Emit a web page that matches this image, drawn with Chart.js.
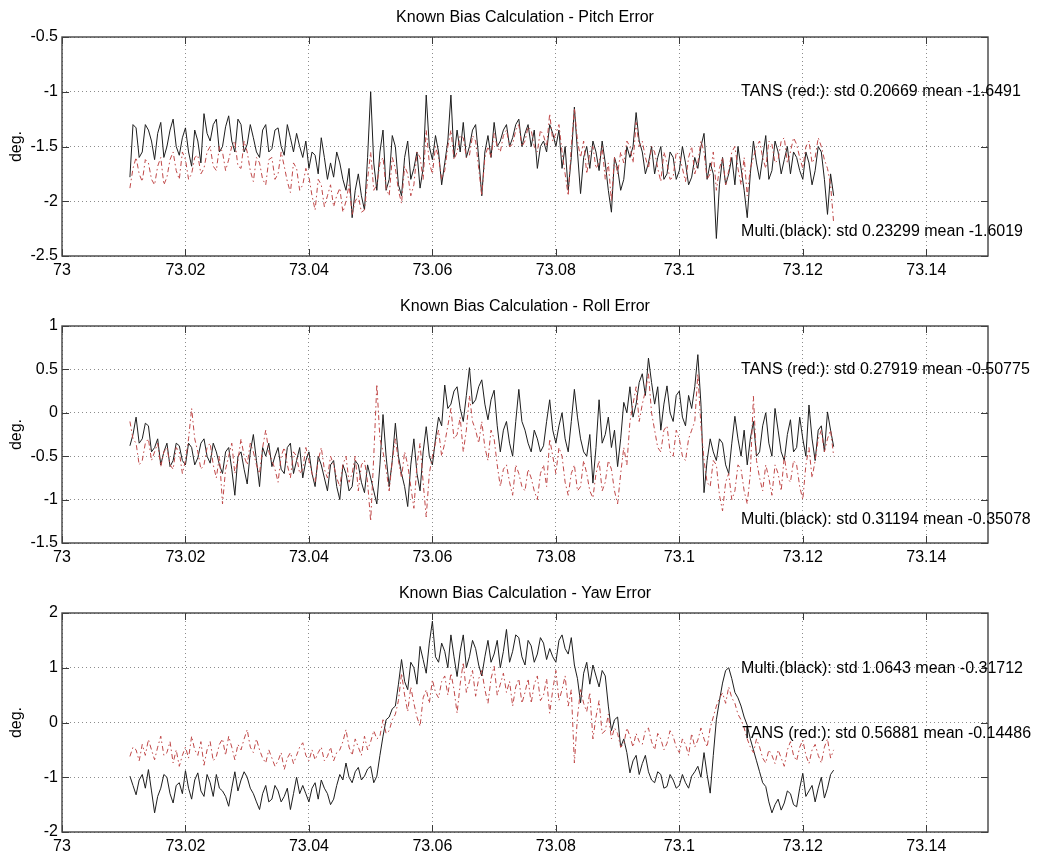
<!DOCTYPE html>
<html><head><meta charset="utf-8">
<script src="https://cdn.jsdelivr.net/npm/chart.js@4.4.1/dist/chart.umd.min.js"></script>
<style>
html,body{margin:0;padding:0;background:#fff;}
body{width:1041px;height:856px;position:relative;overflow:hidden;}
canvas{position:absolute;left:0;}
</style></head><body>
<canvas id="c1" style="top:0px;width:1041px;height:290px" width="1041" height="290"></canvas>
<canvas id="c2" style="top:290px;width:1041px;height:287px" width="1041" height="287"></canvas>
<canvas id="c3" style="top:577px;width:1041px;height:279px" width="1041" height="279"></canvas>
<script>
// ---- data ----
// samples at 73.011, 73.012, ... (grid values) and the read-off values half-way between them (mid values)
const sampleStart = 73.011;
const sampleStep = 0.0005;
const xTicks = [73, 73.02, 73.04, 73.06, 73.08, 73.1, 73.12, 73.14];
const pitchTicks = [-2.5, -2, -1.5, -1, -0.5];
const rollTicks = [-1.5, -1, -0.5, 0, 0.5, 1];
const yawTicks = [-2, -1, 0, 1, 2];

const titles = ["Known Bias Calculation - Pitch Error", "Known Bias Calculation - Roll Error", "Known Bias Calculation - Yaw Error"];
const pitchNotes = [["TANS (red:): std 0.20669 mean -1.6491", 73.11, -1.0], ["Multi.(black): std 0.23299 mean -1.6019", 73.11, -2.28]];
const rollNotes = [["TANS (red:): std 0.27919 mean -0.50775", 73.11, 0.5], ["Multi.(black): std 0.31194 mean -0.35078", 73.11, -1.235]];
const yawNotes = [["Multi.(black): std 1.0643 mean -0.31712", 73.11, 0.98], ["TANS (red:): std 0.56881 mean -0.14486", 73.1102, -0.21]];

const pitchBlack = [-1.78,-1.33,-1.55,-1.35,-1.62,-1.28,-1.5,-1.25,-1.58,-1.33,
 -1.68,-1.45,-1.2,-1.45,-1.25,-1.5,-1.22,-1.55,-1.3,-1.48,
 -1.42,-1.6,-1.3,-1.52,-1.33,-1.58,-1.42,-1.38,-1.6,-1.7,
 -1.58,-1.42,-1.8,-1.78,-1.65,-1.9,-2.15,-1.75,-2.08,-1.0,
 -1.9,-1.35,-1.8,-1.5,-1.95,-1.45,-1.7,-1.88,-1.03,-1.62,
 -1.55,-1.65,-1.03,-1.35,-1.28,-1.5,-1.3,-1.95,-1.4,-1.28,
 -1.45,-1.3,-1.42,-1.25,-1.38,-1.5,-1.7,-1.45,-1.3,-1.5,
 -1.7,-1.9,-1.14,-1.93,-1.5,-1.45,-1.72,-1.65,-2.1,-1.7,
 -1.8,-1.6,-1.19,-1.55,-1.65,-1.75,-1.5,-1.75,-1.6,-1.72,
 -1.65,-1.78,-1.7,-1.38,-1.65,-2.34,-1.6,-1.75,-1.85,-1.7,
 -2.15,-1.45,-1.8,-1.4,-1.72,-1.55,-1.62,-1.75,-1.6,-1.8,
 -1.65,-1.72,-1.55,-2.12,-1.95];
const pitchBlackMid = [-1.3,-1.6,-1.3,-1.45,-1.38,-1.6,-1.35,-1.5,-1.42,-1.55,
 -1.35,-1.65,-1.38,-1.3,-1.55,-1.32,-1.45,-1.25,-1.55,-1.3,
 -1.55,-1.35,-1.55,-1.35,-1.5,-1.3,-1.55,-1.5,-1.45,-1.55,
 -1.75,-1.6,-1.65,-1.55,-1.8,-1.7,-1.9,-1.95,-1.6,-1.65,
 -1.55,-1.9,-1.4,-1.85,-1.6,-1.8,-1.55,-1.7,-1.5,-1.4,
 -1.85,-1.45,-1.6,-1.55,-1.6,-1.35,-1.6,-1.55,-1.6,-1.5,
 -1.35,-1.5,-1.3,-1.5,-1.3,-1.35,-1.5,-1.55,-1.38,-1.35,
 -1.5,-1.6,-1.55,-1.6,-1.7,-1.55,-1.45,-1.9,-1.6,-1.9,
 -1.5,-1.5,-1.45,-1.75,-1.5,-1.6,-1.8,-1.55,-1.8,-1.5,
 -1.85,-1.6,-1.5,-1.8,-1.75,-1.85,-1.85,-1.6,-1.5,-1.9,
 -1.75,-1.65,-1.6,-1.8,-1.45,-1.75,-1.5,-1.55,-1.72,-1.55,
 -1.85,-1.5,-1.8,-1.75];
const pitchRed = [-1.88,-1.6,-1.82,-1.65,-1.85,-1.6,-1.78,-1.55,-1.8,-1.62,
 -1.75,-1.58,-1.7,-1.5,-1.72,-1.55,-1.62,-1.45,-1.7,-1.55,
 -1.82,-1.65,-1.85,-1.6,-1.75,-1.68,-1.92,-1.7,-1.85,-1.78,
 -2.08,-1.85,-1.95,-2.05,-1.88,-2.0,-2.12,-1.95,-2.08,-1.55,
 -1.85,-1.6,-1.95,-1.7,-2.02,-1.75,-1.85,-1.6,-1.35,-1.75,
 -1.6,-1.72,-1.35,-1.55,-1.42,-1.58,-1.45,-1.95,-1.5,-1.38,
 -1.55,-1.35,-1.48,-1.3,-1.45,-1.35,-1.55,-1.4,-1.2,-1.38,
 -1.55,-1.95,-1.15,-1.6,-1.75,-1.5,-1.65,-1.8,-2.0,-1.75,
 -1.65,-1.5,-1.28,-1.45,-1.7,-1.55,-1.82,-1.65,-1.78,-1.58,
 -1.82,-1.5,-1.65,-1.55,-1.75,-1.9,-1.6,-1.72,-1.5,-1.85,
 -1.95,-1.6,-1.45,-1.7,-1.48,-1.62,-1.42,-1.55,-1.48,-1.7,
 -1.45,-1.6,-1.5,-1.7,-2.2];
const pitchRedMid = [-1.7,-1.75,-1.62,-1.8,-1.68,-1.85,-1.62,-1.72,-1.55,-1.8,
 -1.6,-1.75,-1.55,-1.68,-1.5,-1.72,-1.5,-1.68,-1.45,-1.72,
 -1.6,-1.8,-1.62,-1.8,-1.55,-1.82,-1.65,-1.9,-1.7,-1.95,
 -1.8,-2.05,-1.85,-1.95,-2.1,-1.85,-2.0,-2.1,-1.8,-1.9,
 -1.65,-1.88,-1.6,-1.9,-1.68,-1.95,-1.55,-1.8,-1.65,-1.5,
 -1.8,-1.5,-1.62,-1.4,-1.6,-1.4,-1.7,-1.6,-1.6,-1.5,
 -1.4,-1.5,-1.35,-1.5,-1.32,-1.5,-1.35,-1.5,-1.45,-1.3,
 -1.75,-1.5,-1.45,-1.45,-1.55,-1.7,-1.5,-1.65,-1.6,-1.55,
 -1.45,-1.65,-1.5,-1.6,-1.5,-1.7,-1.55,-1.8,-1.55,-1.7,
 -1.6,-1.75,-1.45,-1.8,-1.55,-1.7,-1.85,-1.55,-1.7,-1.6,
 -1.7,-1.5,-1.6,-1.45,-1.65,-1.45,-1.65,-1.42,-1.6,-1.5,
 -1.65,-1.42,-1.62,-1.85];
const rollBlack = [-0.38,-0.05,-0.3,-0.15,-0.4,-0.6,-0.35,-0.55,-0.38,-0.6,
 -0.4,-0.52,-0.3,-0.58,-0.45,-0.7,-0.4,-0.95,-0.45,-0.82,
 -0.25,-0.85,-0.5,-0.62,-0.4,-0.7,-0.35,-0.55,-0.75,-0.45,
 -0.85,-0.6,-0.9,-0.55,-1.0,-0.7,-0.85,-0.6,-0.92,-0.75,
 -1.05,-0.02,-0.85,-0.12,-0.7,-1.08,-0.3,-0.9,-0.16,-0.6,
 -0.05,0.32,0.1,0.3,-0.1,0.52,0.15,0.38,-0.08,0.26,
 -0.45,-0.1,-0.5,0.27,-0.2,-0.45,-0.3,-0.38,0.15,-0.35,
 0.0,-0.45,0.27,-0.3,-0.5,-0.81,0.15,-0.25,-0.4,-0.62,
 0.12,0.3,0.1,0.45,0.63,0.1,-0.2,0.31,-0.1,0.25,
 -0.15,0.05,0.67,-0.92,-0.3,-0.55,-0.35,-0.7,-0.04,-0.5,
 -0.6,-0.1,-0.45,0.0,-0.5,-0.2,-0.55,-0.08,-0.4,-0.3,
 0.09,-0.55,-0.15,0.01,-0.39];
const rollBlackMid = [-0.25,-0.35,-0.12,-0.45,-0.3,-0.45,-0.62,-0.35,-0.55,-0.35,
 -0.6,-0.35,-0.5,-0.35,-0.6,-0.45,-0.65,-0.5,-0.65,-0.45,
 -0.55,-0.4,-0.35,-0.5,-0.65,-0.4,-0.7,-0.4,-0.55,-0.7,
 -0.5,-0.75,-0.6,-0.85,-0.6,-0.9,-0.55,-0.8,-0.6,-0.9,
 -0.6,-0.5,-0.55,-0.5,-0.85,-0.6,-0.7,-0.45,-0.5,-0.3,
 -0.15,0.05,0.25,0.05,0.2,0.1,0.3,0.1,0.15,-0.15,
 -0.2,-0.35,-0.1,-0.1,-0.35,-0.2,-0.45,-0.1,-0.2,-0.15,
 -0.3,-0.1,-0.05,-0.45,-0.25,-0.4,-0.35,-0.05,-0.2,-0.3,
 0.0,-0.05,0.35,0.2,0.35,0.3,0.1,0.0,0.2,-0.05,
 0.2,0.3,0.1,-0.55,-0.45,-0.3,-0.6,-0.35,-0.3,-0.2,
 -0.3,-0.5,-0.15,-0.35,0.05,-0.45,-0.25,-0.45,-0.05,-0.5,
 -0.3,-0.2,-0.45,-0.2];
const rollRed = [-0.1,-0.35,-0.55,-0.3,-0.45,-0.62,-0.4,-0.65,-0.45,-0.55,
 0.05,-0.45,-0.6,-0.35,-0.75,-1.05,-0.5,-0.7,-0.3,-0.6,
 -0.45,-0.7,-0.2,-0.55,-0.8,-0.4,-0.75,-0.5,-0.65,-0.55,
 -0.8,-0.4,-0.75,-0.6,-0.85,-0.5,-0.7,-0.9,-0.55,-1.25,
 0.33,-0.45,-0.9,-0.3,-0.75,-0.6,-1.1,-0.35,-1.2,-0.5,
 -0.2,-0.35,0.05,-0.25,-0.45,0.2,-0.2,-0.1,-0.55,-0.3,
 -0.85,-0.6,-0.95,-0.7,-0.9,-0.75,-1.0,-0.6,-0.3,-0.7,
 -0.5,-0.95,-0.6,-0.85,-0.7,-0.98,-0.55,-0.8,-0.65,-1.05,
 -0.4,-0.1,0.3,0.1,0.45,-0.2,-0.45,-0.15,-0.5,-0.3,
 -0.55,-0.2,0.45,-0.55,-0.85,-0.6,-1.13,-0.7,-0.9,-0.65,
 -1.05,0.19,-0.75,-0.6,-0.95,-0.7,-0.5,-0.8,-0.6,-1.0,
 -0.4,-0.55,-0.2,-0.3,-0.5];
const rollRedMid = [-0.3,-0.6,-0.35,-0.55,-0.35,-0.45,-0.6,-0.4,-0.7,-0.3,
 -0.3,-0.65,-0.4,-0.6,-0.5,-0.65,-0.35,-0.55,-0.5,-0.35,
 -0.6,-0.4,-0.45,-0.65,-0.5,-0.6,-0.45,-0.7,-0.4,-0.7,
 -0.55,-0.65,-0.5,-0.75,-0.6,-0.8,-0.5,-0.6,-0.8,-0.5,
 -0.3,-0.65,-0.55,-0.55,-0.45,-0.85,-0.6,-0.8,-0.7,-0.35,
 -0.5,-0.15,-0.3,-0.05,-0.2,-0.1,-0.35,-0.4,-0.2,-0.6,
 -0.65,-0.8,-0.6,-0.85,-0.65,-0.9,-0.7,-0.85,-0.5,-0.4,
 -0.8,-0.7,-0.9,-0.55,-0.9,-0.7,-0.9,-0.55,-0.9,-0.7,
 -0.6,0.1,-0.1,0.25,0.0,-0.4,-0.2,-0.45,-0.2,-0.5,
 -0.3,-0.1,-0.15,-0.8,-0.55,-0.95,-0.8,-1.0,-0.6,-0.9,
 -0.7,-0.55,-0.9,-0.75,-0.6,-0.9,-0.75,-0.55,-0.85,-0.6,
 -0.75,-0.3,-0.45,-0.2];
const yawBlack = [-0.98,-1.32,-0.95,-0.86,-1.65,-1.2,-1.0,-1.47,-1.1,-0.88,
 -1.4,-0.92,-1.35,-1.1,-0.95,-1.25,-1.53,-0.9,-1.05,-1.0,
 -1.3,-1.59,-1.15,-1.4,-1.25,-1.35,-1.59,-1.0,-1.15,-1.45,
 -1.1,-1.05,-1.3,-1.4,-0.95,-0.74,-1.1,-0.82,-0.98,-0.8,
 -0.98,-0.25,0.1,0.3,1.15,0.6,1.0,1.39,0.9,1.85,
 1.1,1.3,1.6,0.84,1.6,1.2,1.35,0.85,1.5,1.25,
 1.0,1.7,1.3,1.55,1.05,1.4,1.25,1.45,1.35,1.1,
 1.6,1.25,1.05,0.36,1.1,1.05,0.65,0.85,-0.15,0.1,
 -0.3,-0.92,-0.6,-0.75,-0.9,-1.1,-0.95,-1.17,-1.05,-1.15,
 -1.1,-0.98,-0.8,-0.55,-1.29,0.05,0.72,1.0,0.55,0.3,
 -0.05,-0.5,-0.9,-1.17,-1.65,-1.4,-1.47,-1.3,-1.54,-0.93,
 -1.25,-1.45,-1.0,-1.2,-0.87];
const yawBlackMid = [-1.15,-1.05,-1.2,-1.25,-1.35,-0.95,-1.3,-1.15,-1.3,-1.2,
 -1.05,-1.25,-0.95,-1.35,-1.2,-1.35,-1.2,-1.25,-0.9,-1.2,
 -1.45,-1.3,-1.45,-1.15,-1.45,-1.2,-1.3,-1.3,-1.3,-1.2,
 -1.4,-1.2,-1.5,-1.15,-1.05,-1.0,-0.9,-1.05,-0.85,-1.1,
 -0.6,0.05,0.25,0.7,0.75,1.1,0.7,1.15,1.45,1.2,
 1.45,1.0,1.2,1.3,1.0,1.5,1.05,1.2,1.1,1.5,
 1.3,1.1,1.6,1.2,1.5,1.1,1.55,1.15,1.2,1.5,
 1.35,1.55,0.8,0.9,0.7,0.85,0.95,0.3,0.05,-0.45,
 -0.55,-0.7,-0.95,-0.6,-1.05,-0.9,-1.2,-0.95,-1.2,-0.95,
 -1.2,-0.9,-1.0,-0.95,-0.6,0.4,0.95,0.8,0.45,0.1,
 -0.3,-0.7,-1.1,-1.45,-1.5,-1.6,-1.25,-1.5,-1.2,-1.35,
 -1.15,-1.2,-1.38,-0.95];
const yawRed = [-0.62,-0.5,-0.4,-0.31,-0.68,-0.25,-0.55,-0.74,-0.8,-0.45,
 -0.25,-0.6,-0.78,-0.35,-0.62,-0.3,-0.25,-0.68,-0.5,-0.13,
 -0.55,-0.5,-0.74,-0.65,-0.7,-0.86,-0.55,-0.6,-0.37,-0.7,
 -0.68,-0.45,-0.62,-0.7,-0.5,-0.13,-0.6,-0.45,-0.25,-0.35,
 -0.3,0.05,-0.15,0.15,0.9,0.2,0.35,-0.07,0.6,0.78,
 0.45,0.85,0.9,0.17,1.1,0.75,0.48,0.95,0.35,1.03,
 0.7,0.55,0.3,0.8,0.55,0.35,0.85,0.5,0.17,0.95,
 0.6,0.3,-0.74,0.6,0.2,-0.3,0.4,-0.15,-0.3,-0.2,
 -0.4,-0.25,-0.2,-0.4,-0.1,-0.5,-0.3,-0.38,-0.25,-0.55,
 -0.4,-0.2,-0.32,-0.3,-0.1,0.3,0.54,0.65,0.35,0.05,
 -0.3,-0.55,-0.45,-0.74,-0.6,-0.5,-0.8,-0.35,-0.7,-0.32,
 -0.75,-0.4,-0.74,-0.3,-0.5];
const yawRedMid = [-0.45,-0.7,-0.6,-0.5,-0.45,-0.6,-0.35,-0.5,-0.6,-0.65,
 -0.5,-0.35,-0.5,-0.7,-0.4,-0.6,-0.45,-0.4,-0.3,-0.45,
 -0.3,-0.65,-0.5,-0.8,-0.55,-0.65,-0.75,-0.45,-0.6,-0.5,
 -0.55,-0.7,-0.45,-0.55,-0.35,-0.45,-0.3,-0.6,-0.5,-0.15,
 -0.25,-0.2,0.05,0.4,0.5,0.65,0.1,0.45,0.35,0.55,
 0.75,0.5,0.6,0.7,0.55,0.95,0.8,0.6,0.8,0.5,
 0.9,0.75,0.65,0.35,0.8,0.7,0.4,0.8,0.6,0.4,
 0.85,0.6,0.1,0.35,0.55,0.1,-0.2,0.15,-0.1,-0.45,
 -0.1,-0.45,-0.35,-0.15,-0.35,-0.2,-0.5,-0.15,-0.45,-0.3,
 -0.6,-0.45,-0.1,-0.45,0.1,0.45,0.35,0.45,0.15,-0.1,
 -0.45,-0.3,-0.65,-0.5,-0.75,-0.65,-0.5,-0.6,-0.45,-0.6,
 -0.5,-0.6,-0.45,-0.65];

// ---- rendering ----
const FONT = '"Liberation Sans", Arial, Helvetica, sans-serif';
function merge(onGrid, mids){ const out = []; onGrid.forEach((v,i)=>{ out.push(v); if (i < mids.length) out.push(mids[i]); }); return out; }
function pts(vals){ return vals.map((v,i)=>({x:+(sampleStart + i*sampleStep).toFixed(5), y:v})); }
function fmt(v){ return String(parseFloat(Number(v).toFixed(2))); }

function makeChart(id, black, red, yTicks, title, notes, lay){
  const frame = {
    id:'frame'+id,
    beforeDraw(chart){
      const c = chart.ctx; c.save(); c.fillStyle='#fff'; c.fillRect(0,0,chart.width,chart.height); c.restore();
    },
    afterDraw(chart){
      const c = chart.ctx, a = chart.chartArea, xs = chart.scales.x, ys = chart.scales.y;
      c.save();
      c.strokeStyle = '#3a3a3a'; c.lineWidth = 1;
      c.beginPath();
      xTicks.forEach(v=>{ const p = Math.round(xs.getPixelForValue(v))+0.5;
        c.moveTo(p,a.bottom); c.lineTo(p,a.bottom-7); c.moveTo(p,a.top); c.lineTo(p,a.top+7); });
      yTicks.forEach(v=>{ const p = Math.round(ys.getPixelForValue(v))+0.5;
        c.moveTo(a.left,p); c.lineTo(a.left+7,p); c.moveTo(a.right,p); c.lineTo(a.right-7,p); });
      c.stroke();
      c.lineWidth = 1.4; c.strokeStyle = '#444';
      c.strokeRect(a.left, a.top, a.right-a.left, a.bottom-a.top);
      c.fillStyle = '#000';
      c.font = '16px ' + FONT;
      c.textAlign = 'center'; c.textBaseline = 'middle';
      c.fillText(title, (a.left+a.right)/2, a.top - 19);
      c.save(); c.translate(17, (a.top+a.bottom)/2); c.rotate(-Math.PI/2);
      c.fillText('deg.', 0, 0); c.restore();
      c.textAlign = 'left';
      notes.forEach(n=>{ c.fillText(n[0], xs.getPixelForValue(n[1]), ys.getPixelForValue(n[2])); });
      c.restore();
    }
  };
  const gridOpts = {color:'#8c8c8c', lineWidth:1, drawTicks:false};
  return new Chart(document.getElementById(id), {
    type:'line',
    data:{datasets:[
      {data:pts(red), borderColor:'#c04848', borderWidth:1, borderDash:[5,3,1.5,3], pointRadius:0, tension:0, fill:false},
      {data:pts(black), borderColor:'#1e1e1e', borderWidth:1, pointRadius:0, tension:0, fill:false}
    ]},
    options:{
      responsive:false, animation:false, devicePixelRatio:1,
      layout:{padding:{top:lay.top, right:53, bottom:0, left:0}},
      plugins:{legend:{display:false}, tooltip:{enabled:false}, title:{display:false}},
      scales:{
        x:{type:'linear', min:73, max:73.15,
           afterBuildTicks:s=>{ s.ticks = xTicks.map(v=>({value:v})); },
           afterFit:s=>{ s.height = lay.xh; },
           grid:gridOpts, border:{display:false, dash:[1,3]},
           ticks:{autoSkip:false, maxRotation:0, minRotation:0, padding:5, color:'#000', font:{family:FONT, size:16}, callback:v=>fmt(v)}},
        y:{type:'linear', min:yTicks[0], max:yTicks[yTicks.length-1],
           afterBuildTicks:s=>{ s.ticks = yTicks.map(v=>({value:v})); },
           afterFit:s=>{ s.width = 62; },
           grid:gridOpts, border:{display:false, dash:[1,3]},
           ticks:{autoSkip:false, padding:4, color:'#000', font:{family:FONT, size:16}, callback:v=>fmt(v)}}
      }
    },
    plugins:[frame]
  });
}

makeChart('c1', merge(pitchBlack, pitchBlackMid), merge(pitchRed, pitchRedMid), pitchTicks, titles[0], pitchNotes, {top:37, xh:34});
makeChart('c2', merge(rollBlack, rollBlackMid), merge(rollRed, rollRedMid), rollTicks, titles[1], rollNotes, {top:36, xh:34});
makeChart('c3', merge(yawBlack, yawBlackMid), merge(yawRed, yawRedMid), yawTicks, titles[2], yawNotes, {top:36, xh:24});
</script>
</body></html>
